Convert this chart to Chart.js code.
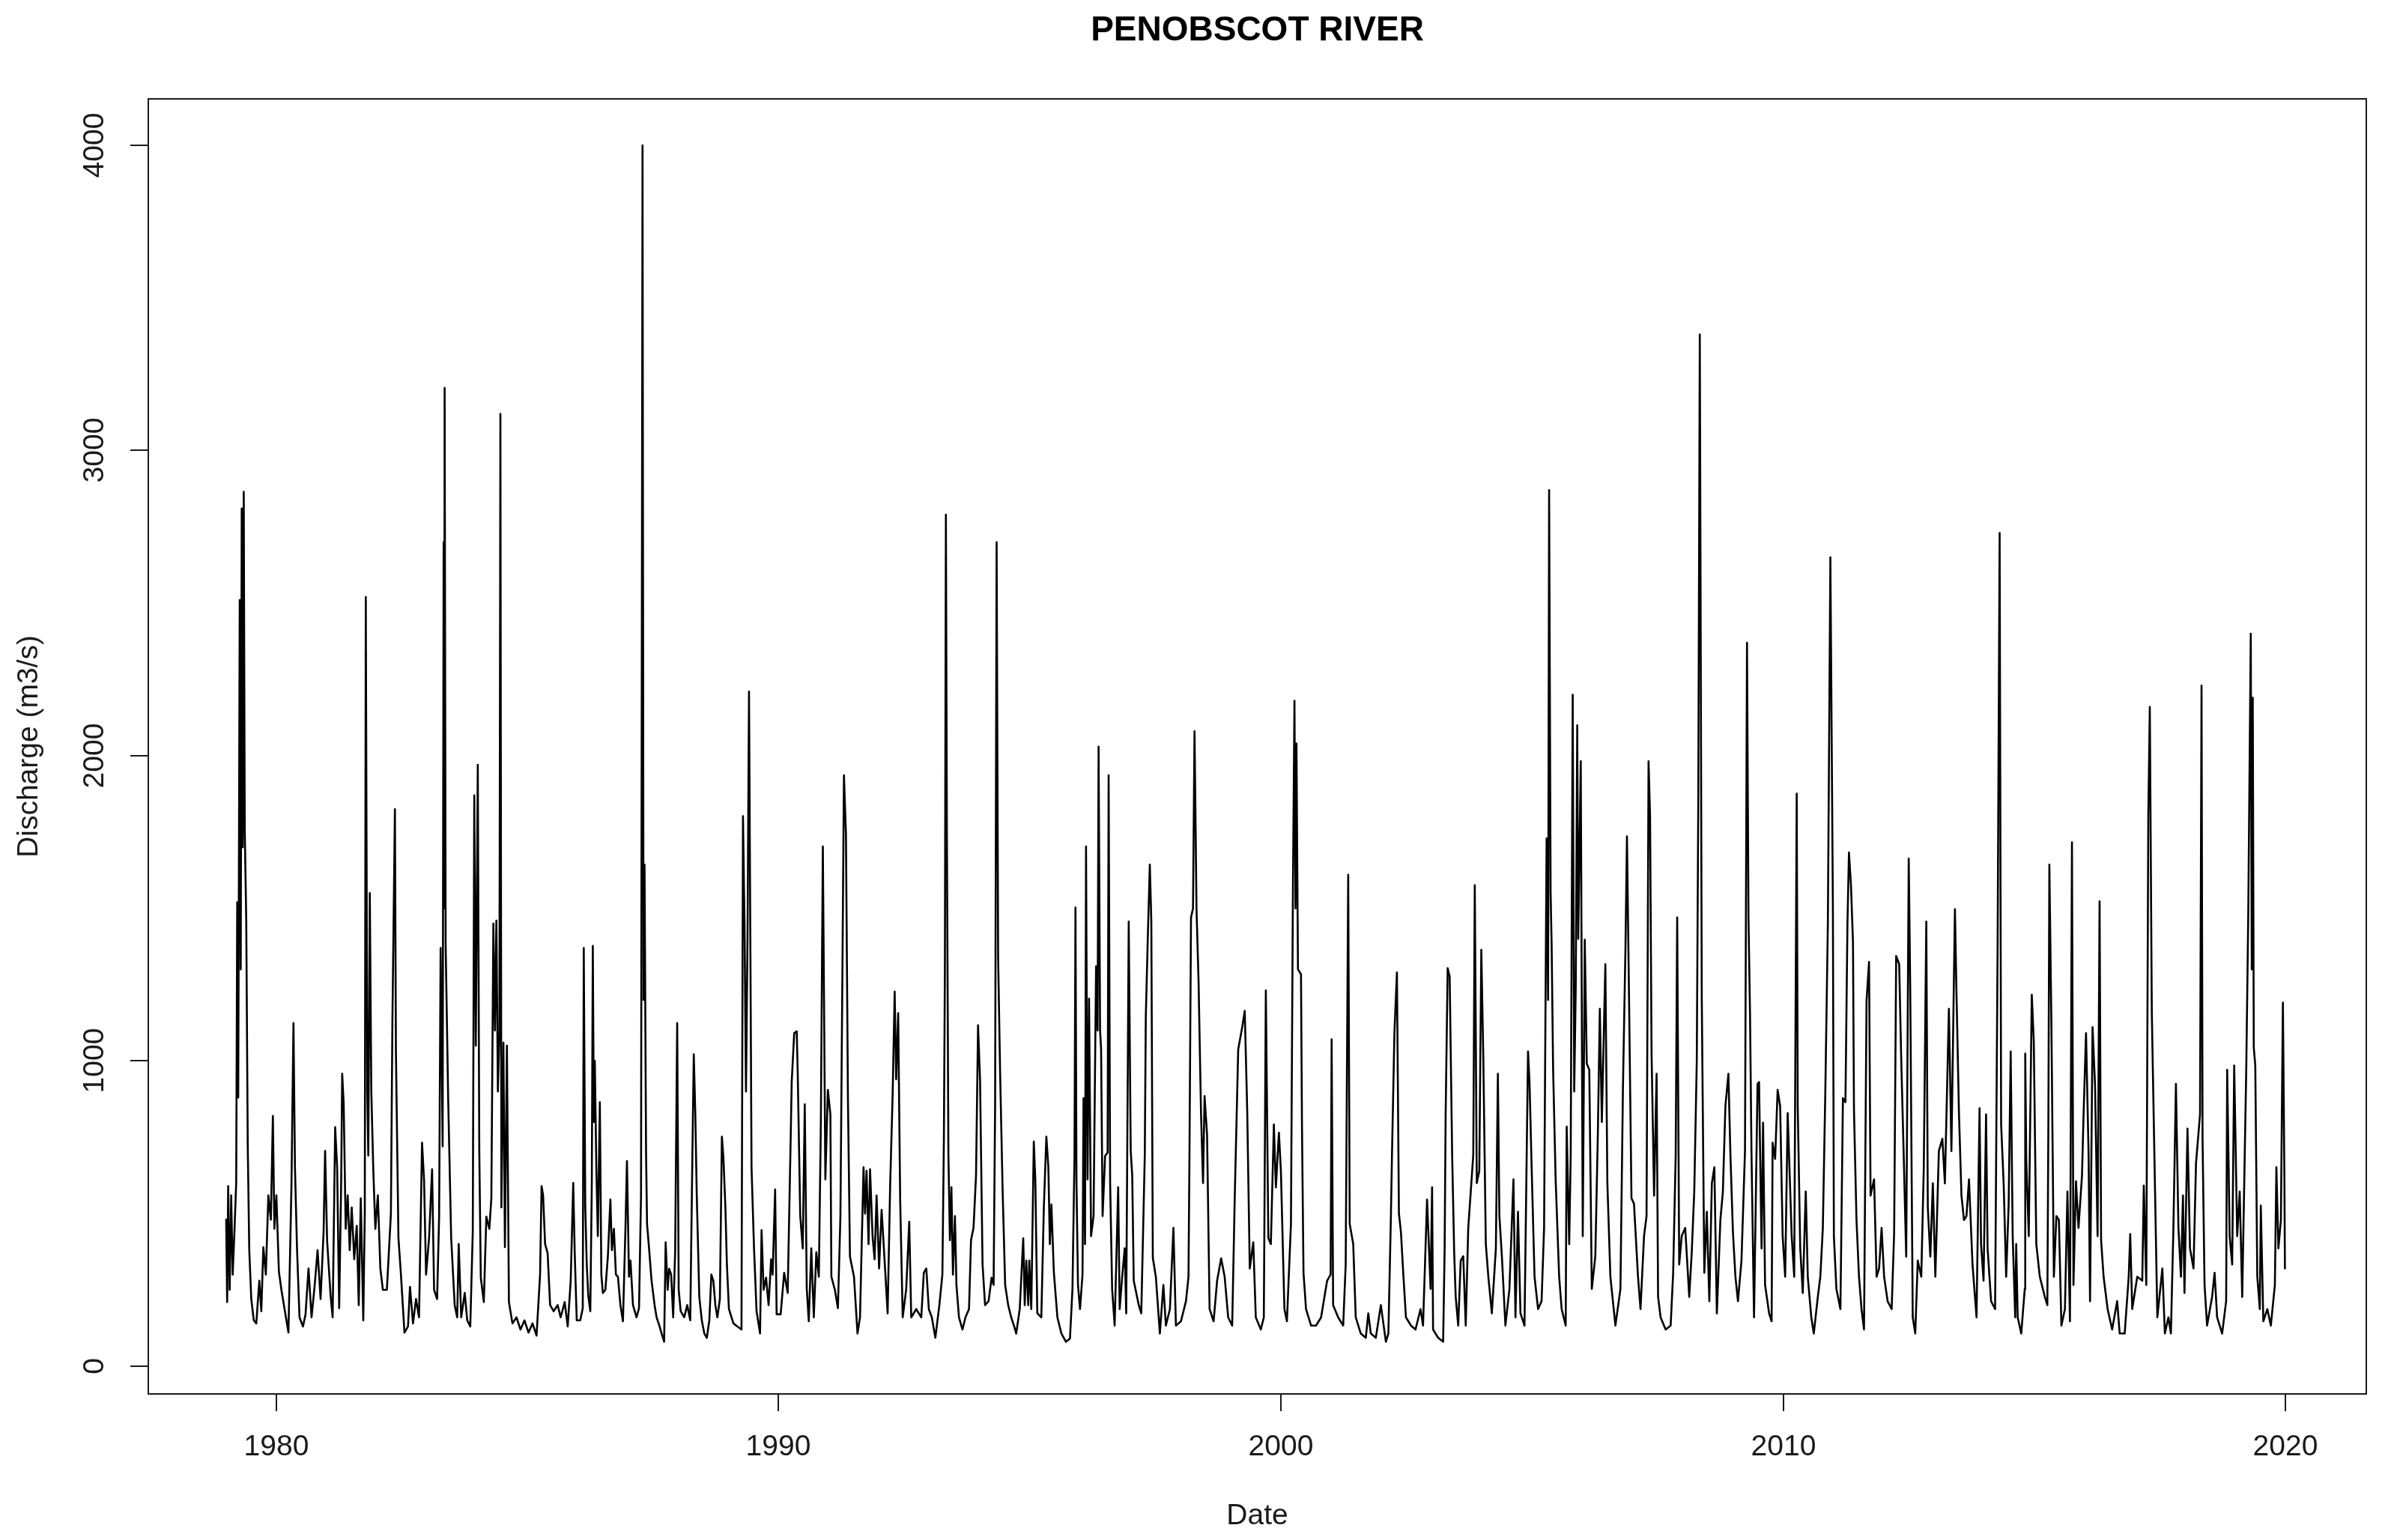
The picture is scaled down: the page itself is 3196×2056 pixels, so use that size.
<!DOCTYPE html>
<html>
<head>
<meta charset="utf-8">
<script src="https://cdn.jsdelivr.net/npm/chart.js@4.4.1/dist/chart.umd.min.js"></script>
<style>
    html, body { margin: 0; padding: 0; background: #fff; }
    #wrap { width: 3196px; height: 2056px; position: relative; }
</style>
</head>
<body>
<div id="wrap"><canvas id="flow-chart"></canvas></div>
<script>
const chartTitle = 'PENOBSCOT RIVER';
const xTitle = 'Date';
const yTitle = 'Discharge (m3/s)';
const yearTicks = [1980, 1990, 2000, 2010, 2020];
const flowTicks = [0, 1000, 2000, 3000, 4000];

// [decimal year, discharge m3/s]
const readings1979 = [
    [1979.00, 480], [1979.02, 210], [1979.04, 590], [1979.07, 250], [1979.10, 560], [1979.13, 300], [1979.16, 420], [1979.20, 600],
    [1979.22, 1520], [1979.24, 880], [1979.27, 2510], [1979.29, 1300], [1979.31, 2810], [1979.33, 1700], [1979.35, 2865], [1979.37, 1760],
    [1979.40, 1460], [1979.43, 720], [1979.46, 380], [1979.50, 220], [1979.55, 150], [1979.60, 140], [1979.66, 280], [1979.70, 180],
    [1979.74, 390], [1979.79, 300], [1979.84, 560], [1979.89, 480], [1979.93, 820], [1979.96, 450], [1980.00, 560], [1980.05, 310],
    [1980.10, 250], [1980.16, 190], [1980.24, 110], [1980.30, 590], [1980.34, 1124], [1980.37, 650], [1980.41, 390], [1980.46, 160],
    [1980.53, 130], [1980.58, 170], [1980.64, 320], [1980.70, 160], [1980.76, 260], [1980.82, 380], [1980.88, 220], [1980.94, 440],
    [1980.97, 705], [1981.01, 410], [1981.08, 230], [1981.12, 160], [1981.17, 783], [1981.21, 650], [1981.25, 190], [1981.29, 600],
    [1981.31, 958], [1981.34, 860], [1981.38, 450], [1981.42, 560], [1981.46, 380], [1981.50, 520], [1981.55, 350], [1981.60, 460],
    [1981.64, 200], [1981.68, 550], [1981.73, 150], [1981.76, 500], [1981.78, 2520], [1981.81, 900], [1981.83, 690], [1981.86, 1550],
    [1981.89, 900], [1981.93, 640], [1981.97, 450], [1982.02, 560], [1982.07, 320], [1982.12, 250], [1982.20, 250], [1982.28, 500],
    [1982.31, 1130], [1982.36, 1825], [1982.38, 1030], [1982.43, 420], [1982.48, 300], [1982.55, 110], [1982.62, 130], [1982.66, 260],
    [1982.72, 140], [1982.78, 220], [1982.84, 160], [1982.90, 732], [1982.94, 610], [1982.98, 300], [1983.04, 420], [1983.10, 645],
    [1983.14, 250], [1983.20, 220], [1983.24, 490], [1983.27, 1370], [1983.31, 720], [1983.33, 2700], [1983.34, 1500], [1983.35, 3205],
    [1983.37, 1380], [1983.42, 880], [1983.48, 420], [1983.55, 200], [1983.60, 160], [1983.63, 400], [1983.68, 160], [1983.75, 240],
    [1983.80, 150], [1983.86, 130], [1983.91, 440], [1983.94, 1870], [1983.97, 1050], [1984.01, 1970], [1984.04, 700], [1984.07, 290],
    [1984.13, 210], [1984.18, 490], [1984.24, 450], [1984.28, 550], [1984.32, 1450], [1984.35, 1100], [1984.38, 1460], [1984.41, 900],
    [1984.44, 1090], [1984.46, 3120], [1984.48, 520], [1984.52, 1060], [1984.55, 390], [1984.59, 1050], [1984.63, 210], [1984.70, 140],
    [1984.78, 160], [1984.86, 120], [1984.94, 150], [1985.02, 110], [1985.10, 140], [1985.18, 100], [1985.25, 300], [1985.28, 590],
    [1985.31, 560], [1985.35, 400], [1985.40, 370], [1985.45, 200], [1985.52, 180], [1985.60, 200], [1985.66, 160], [1985.74, 210],
    [1985.80, 130], [1985.86, 280], [1985.91, 600], [1985.94, 370], [1985.98, 150],
];

const readings1986 = [
    [1986.05, 150], [1986.10, 190], [1986.12, 1370], [1986.15, 520], [1986.18, 330], [1986.21, 230], [1986.25, 180], [1986.28, 600],
    [1986.30, 1377], [1986.32, 800], [1986.34, 1000], [1986.37, 650], [1986.40, 426], [1986.44, 865], [1986.47, 300], [1986.50, 240],
    [1986.55, 250], [1986.60, 360], [1986.65, 546], [1986.68, 380], [1986.72, 450], [1986.76, 300], [1986.80, 293], [1986.85, 200],
    [1986.90, 147], [1986.95, 453], [1986.98, 672], [1987.02, 293], [1987.05, 346], [1987.10, 200], [1987.17, 160], [1987.22, 190],
    [1987.26, 559], [1987.29, 4000], [1987.31, 1200], [1987.33, 1643], [1987.36, 700], [1987.38, 466], [1987.42, 386], [1987.47, 280],
    [1987.53, 200], [1987.57, 160], [1987.63, 130], [1987.67, 107], [1987.72, 80], [1987.75, 406], [1987.79, 250], [1987.82, 319],
    [1987.86, 300], [1987.90, 160], [1987.94, 380], [1987.98, 1124], [1988.01, 250], [1988.05, 180], [1988.12, 160], [1988.18, 200],
    [1988.24, 150], [1988.28, 659], [1988.31, 1022], [1988.34, 832], [1988.37, 559], [1988.42, 227], [1988.47, 150], [1988.52, 107],
    [1988.57, 93], [1988.62, 150], [1988.66, 300], [1988.70, 280], [1988.74, 200], [1988.78, 160], [1988.83, 220], [1988.87, 752],
    [1988.90, 685], [1988.94, 519], [1988.97, 333], [1989.01, 187], [1989.10, 140], [1989.18, 130], [1989.26, 120], [1989.29, 1802],
    [1989.32, 1457], [1989.35, 900], [1989.38, 1400], [1989.41, 2210], [1989.44, 1290], [1989.46, 652], [1989.51, 386], [1989.56, 180],
    [1989.63, 107], [1989.66, 446], [1989.70, 250], [1989.75, 290], [1989.80, 200], [1989.85, 350], [1989.88, 300], [1989.93, 579],
    [1989.96, 170], [1990.04, 170], [1990.11, 306], [1990.18, 240], [1990.24, 750], [1990.26, 931], [1990.31, 1091], [1990.36, 1097],
    [1990.38, 958], [1990.43, 492], [1990.48, 386], [1990.52, 858], [1990.56, 253], [1990.60, 147], [1990.65, 386], [1990.70, 160],
    [1990.75, 373], [1990.80, 293], [1990.84, 792], [1990.88, 1703], [1990.90, 1277], [1990.93, 612], [1990.98, 905], [1991.03, 825],
    [1991.05, 293], [1991.12, 250], [1991.18, 190], [1991.23, 492], [1991.27, 1300], [1991.30, 1936], [1991.34, 1743], [1991.38, 872],
    [1991.42, 359], [1991.50, 293], [1991.57, 107], [1991.62, 160], [1991.69, 652], [1991.72, 500], [1991.75, 640], [1991.79, 400],
    [1991.82, 645], [1991.87, 426], [1991.91, 350], [1991.95, 559], [1992.00, 320], [1992.05, 512], [1992.10, 373], [1992.17, 173],
    [1992.22, 592], [1992.27, 892], [1992.31, 1227], [1992.34, 940], [1992.38, 1157], [1992.42, 540], [1992.47, 160], [1992.54, 253],
    [1992.60, 473], [1992.64, 160], [1992.74, 187], [1992.84, 160], [1992.89, 306], [1992.94, 320], [1992.99, 187], [1993.05, 160],
    [1993.12, 93],
];

const readings1993 = [
    [1993.20, 200], [1993.26, 300], [1993.29, 745], [1993.31, 1300], [1993.33, 2790], [1993.35, 1743], [1993.38, 692], [1993.41, 413],
    [1993.44, 586], [1993.47, 300], [1993.51, 492], [1993.54, 266], [1993.59, 160], [1993.66, 120], [1993.72, 160], [1993.79, 187],
    [1993.83, 413], [1993.88, 453], [1993.93, 625], [1993.97, 1117], [1994.01, 938], [1994.06, 333], [1994.11, 200], [1994.18, 213],
    [1994.24, 290], [1994.28, 266], [1994.31, 858], [1994.34, 2700], [1994.37, 1337], [1994.41, 958], [1994.46, 572], [1994.51, 266],
    [1994.57, 200], [1994.63, 160], [1994.69, 130], [1994.73, 107], [1994.80, 187], [1994.87, 419], [1994.90, 200], [1994.93, 346],
    [1994.97, 200], [1994.99, 346], [1995.03, 187], [1995.08, 736], [1995.11, 612], [1995.15, 173], [1995.23, 160], [1995.28, 519],
    [1995.33, 752], [1995.37, 652], [1995.40, 400], [1995.43, 530], [1995.48, 306], [1995.55, 160], [1995.63, 107], [1995.72, 80],
    [1995.80, 90], [1995.85, 253], [1995.89, 685], [1995.91, 1503], [1995.93, 600], [1995.96, 266], [1996.00, 187], [1996.05, 300],
    [1996.07, 878], [1996.10, 400], [1996.12, 1703], [1996.15, 612], [1996.18, 1204], [1996.22, 426], [1996.27, 492], [1996.32, 1310],
    [1996.35, 1100], [1996.37, 2030], [1996.40, 1100], [1996.42, 1038], [1996.45, 492], [1996.50, 689], [1996.55, 700], [1996.57, 1936],
    [1996.60, 599], [1996.64, 253], [1996.69, 133], [1996.76, 586], [1996.79, 187], [1996.84, 293], [1996.89, 386], [1996.92, 173],
    [1996.97, 1457], [1997.01, 705], [1997.04, 625], [1997.07, 280], [1997.17, 200], [1997.22, 173], [1997.29, 692], [1997.31, 1144],
    [1997.35, 1404], [1997.39, 1643], [1997.42, 1457], [1997.45, 355], [1997.51, 293], [1997.59, 107], [1997.66, 266], [1997.71, 133],
    [1997.79, 187], [1997.86, 453], [1997.91, 133], [1998.01, 147], [1998.11, 213], [1998.16, 293], [1998.18, 705], [1998.21, 1470],
    [1998.25, 1500], [1998.28, 2080], [1998.32, 1497], [1998.36, 1264], [1998.41, 825], [1998.45, 600], [1998.48, 885], [1998.53, 758],
    [1998.58, 187], [1998.66, 147], [1998.73, 280], [1998.81, 353], [1998.88, 293], [1998.95, 160], [1999.03, 133], [1999.08, 546],
    [1999.15, 1038], [1999.23, 1111], [1999.28, 1164], [1999.33, 832], [1999.38, 320], [1999.45, 406], [1999.50, 160], [1999.60, 120],
    [1999.66, 160], [1999.70, 1231], [1999.75, 420], [1999.80, 400], [1999.86, 792], [1999.90, 586], [1999.96, 765], [2000.00, 640],
    [2000.07, 187], [2000.12, 147], [2000.20, 466], [2000.24, 1576],
];

const readings2000 = [
    [2000.27, 2180], [2000.29, 1500], [2000.31, 2040], [2000.34, 1300], [2000.40, 1284], [2000.42, 778], [2000.45, 306], [2000.50, 187],
    [2000.60, 133], [2000.70, 133], [2000.80, 160], [2000.92, 280], [2000.99, 300], [2001.01, 1071], [2001.04, 200], [2001.14, 160],
    [2001.24, 133], [2001.29, 333], [2001.34, 1610], [2001.37, 466], [2001.44, 400], [2001.49, 160], [2001.59, 107], [2001.69, 93],
    [2001.74, 173], [2001.79, 107], [2001.89, 93], [2001.99, 200], [2002.09, 80], [2002.14, 107], [2002.19, 492], [2002.21, 679],
    [2002.26, 1091], [2002.31, 1290], [2002.35, 500], [2002.39, 439], [2002.44, 293], [2002.49, 160], [2002.59, 133], [2002.68, 120],
    [2002.78, 187], [2002.83, 133], [2002.91, 546], [2002.98, 253], [2003.01, 586], [2003.03, 120], [2003.13, 93], [2003.23, 80],
    [2003.26, 386], [2003.28, 825], [2003.32, 1304], [2003.36, 1277], [2003.41, 689], [2003.45, 373], [2003.48, 227], [2003.53, 133],
    [2003.58, 346], [2003.63, 360], [2003.68, 133], [2003.73, 453], [2003.78, 572], [2003.83, 692], [2003.86, 1576], [2003.90, 600],
    [2003.95, 640], [2003.99, 1364], [2004.03, 1011], [2004.08, 400], [2004.13, 293], [2004.20, 173], [2004.28, 386], [2004.32, 958],
    [2004.35, 492], [2004.40, 359], [2004.47, 133], [2004.55, 253], [2004.63, 612], [2004.67, 160], [2004.72, 506], [2004.77, 173],
    [2004.85, 133], [2004.92, 1031], [2004.95, 931], [2004.99, 665], [2005.05, 293], [2005.12, 187], [2005.19, 213], [2005.24, 453],
    [2005.29, 1729], [2005.32, 1200], [2005.34, 2870], [2005.37, 1550], [2005.39, 1384], [2005.42, 971], [2005.47, 612], [2005.54, 293],
    [2005.59, 187], [2005.67, 133], [2005.69, 785], [2005.74, 400], [2005.77, 692], [2005.81, 2200], [2005.84, 900], [2005.87, 1237],
    [2005.90, 2100], [2005.92, 1400], [2005.97, 1982], [2006.01, 426], [2006.05, 1397], [2006.09, 991], [2006.14, 971], [2006.19, 253],
    [2006.26, 360], [2006.31, 758], [2006.35, 1171], [2006.39, 800], [2006.46, 1317], [2006.50, 599], [2006.56, 293], [2006.66, 133],
    [2006.76, 253], [2006.81, 911], [2006.86, 1370], [2006.89, 1736], [2006.93, 1224], [2006.98, 550], [2007.03, 532], [2007.11, 293],
    [2007.16, 187], [2007.23, 426], [2007.28, 492], [2007.32, 1982], [2007.35, 1803], [2007.38, 1024], [2007.43, 559],
];

const readings2007 = [
    [2007.48, 958], [2007.51, 227], [2007.56, 160], [2007.66, 120], [2007.76, 133], [2007.81, 306], [2007.86, 692], [2007.89, 1470],
    [2007.93, 333], [2007.98, 426], [2008.05, 453], [2008.13, 227], [2008.18, 373], [2008.23, 572], [2008.28, 998], [2008.31, 1842],
    [2008.34, 3380], [2008.38, 1197], [2008.43, 306], [2008.48, 506], [2008.53, 213], [2008.58, 599], [2008.63, 652], [2008.68, 173],
    [2008.75, 479], [2008.80, 572], [2008.85, 852], [2008.91, 958], [2008.95, 692], [2009.00, 439], [2009.05, 293], [2009.10, 213],
    [2009.17, 346], [2009.24, 705], [2009.28, 2370], [2009.31, 1463], [2009.34, 1157], [2009.37, 692], [2009.42, 160], [2009.49, 925],
    [2009.52, 931], [2009.57, 386], [2009.60, 798], [2009.64, 266], [2009.72, 173], [2009.77, 147], [2009.79, 732], [2009.84, 679],
    [2009.89, 905], [2009.94, 852], [2009.99, 426], [2010.04, 293], [2010.09, 829], [2010.17, 426], [2010.22, 293], [2010.27, 1876],
    [2010.29, 852], [2010.34, 386], [2010.39, 240], [2010.45, 572], [2010.49, 293], [2010.56, 160], [2010.61, 107], [2010.69, 227],
    [2010.74, 293], [2010.79, 453], [2010.84, 905], [2010.89, 1450], [2010.94, 2650], [2010.99, 1510], [2011.01, 426], [2011.06, 253],
    [2011.14, 187], [2011.19, 878], [2011.24, 865], [2011.28, 1450], [2011.31, 1683], [2011.35, 1576], [2011.39, 1390], [2011.41, 838],
    [2011.46, 479], [2011.51, 293], [2011.56, 187], [2011.61, 120], [2011.66, 1197], [2011.71, 1324], [2011.74, 559], [2011.81, 612],
    [2011.86, 293], [2011.91, 320], [2011.96, 453], [2012.01, 293], [2012.08, 213], [2012.16, 187], [2012.21, 439], [2012.25, 1344],
    [2012.31, 1317], [2012.35, 1011], [2012.40, 692], [2012.45, 359], [2012.50, 1663], [2012.53, 1237], [2012.58, 160], [2012.63, 107],
    [2012.68, 346], [2012.75, 293], [2012.80, 652], [2012.85, 1457], [2012.88, 519], [2012.93, 359], [2012.98, 599], [2013.03, 293],
    [2013.10, 705], [2013.17, 745], [2013.22, 599], [2013.30, 1171], [2013.35, 705], [2013.42, 1497], [2013.45, 1231], [2013.50, 830],
    [2013.55, 559], [2013.60, 479], [2013.65, 492], [2013.70, 612], [2013.77, 333], [2013.85, 160], [2013.91, 845], [2013.94, 400],
    [2013.99, 280], [2014.04, 825], [2014.07, 386], [2014.14, 213], [2014.22, 187], [2014.27, 1384], [2014.31, 2730], [2014.34, 792],
    [2014.39, 599], [2014.44, 293], [2014.49, 532], [2014.53, 1031], [2014.57, 426], [2014.62, 160],
];

const readings2014 = [
    [2014.64, 400], [2014.67, 160], [2014.74, 107], [2014.81, 253], [2014.82, 1024], [2014.84, 679], [2014.89, 426], [2014.95, 1217],
    [2014.99, 1064], [2015.04, 400], [2015.11, 293], [2015.21, 227], [2015.26, 200], [2015.28, 785], [2015.30, 1643], [2015.34, 1131],
    [2015.39, 293], [2015.44, 492], [2015.49, 479], [2015.54, 133], [2015.61, 187], [2015.66, 572], [2015.71, 147], [2015.75, 1716],
    [2015.78, 266], [2015.83, 606], [2015.88, 453], [2015.95, 625], [2015.98, 818], [2016.03, 1091], [2016.08, 705], [2016.11, 213],
    [2016.16, 1111], [2016.21, 918], [2016.26, 426], [2016.30, 1523], [2016.33, 413], [2016.38, 293], [2016.46, 187], [2016.55, 120],
    [2016.65, 213], [2016.70, 107], [2016.80, 107], [2016.88, 293], [2016.91, 433], [2016.95, 187], [2017.05, 293], [2017.15, 280],
    [2017.18, 592], [2017.23, 266], [2017.27, 1803], [2017.30, 2160], [2017.34, 1157], [2017.40, 612], [2017.45, 160], [2017.55, 320],
    [2017.60, 107], [2017.67, 160], [2017.72, 107], [2017.77, 453], [2017.82, 925], [2017.87, 453], [2017.92, 293], [2017.96, 559],
    [2017.99, 240], [2018.05, 778], [2018.10, 386], [2018.17, 320], [2018.22, 665], [2018.30, 825], [2018.33, 2230], [2018.35, 745],
    [2018.39, 266], [2018.44, 133], [2018.54, 227], [2018.59, 306], [2018.64, 160], [2018.74, 107], [2018.82, 213], [2018.84, 971],
    [2018.89, 426], [2018.94, 333], [2018.98, 985], [2019.04, 426], [2019.09, 572], [2019.14, 227], [2019.22, 971], [2019.26, 1477],
    [2019.31, 2400], [2019.33, 1300], [2019.35, 2190], [2019.37, 1044], [2019.40, 985], [2019.44, 293], [2019.49, 187], [2019.51, 526],
    [2019.56, 147], [2019.64, 187], [2019.71, 133], [2019.79, 266], [2019.82, 652], [2019.86, 386], [2019.91, 479], [2019.95, 1191],
    [2019.98, 612], [2019.99, 320],
];

const FONT = '"Liberation Sans", Arial, sans-serif';
const INK = '#1a1a1a';

// base-graphics style frame, ticks and labels
const baseAxes = {
    id: 'baseAxes',
    afterDraw(chart) {
        const { ctx, chartArea: area, scales } = chart;
        const midX = (area.left + area.right) / 2;
        const midY = (area.top + area.bottom) / 2;

        ctx.save();
        ctx.strokeStyle = INK;
        ctx.fillStyle = INK;
        ctx.lineWidth = 2;
        ctx.strokeRect(area.left, area.top, area.right - area.left, area.bottom - area.top);

        ctx.font = '39px ' + FONT;
        ctx.textAlign = 'center';
        ctx.textBaseline = 'middle';

        yearTicks.forEach((year) => {
            const px = Math.round(scales.x.getPixelForValue(year));
            ctx.beginPath();
            ctx.moveTo(px, area.bottom);
            ctx.lineTo(px, area.bottom + 23);
            ctx.stroke();
            ctx.fillText(String(year), px, area.bottom + 71);
        });

        flowTicks.forEach((value) => {
            const py = Math.round(scales.y.getPixelForValue(value));
            ctx.beginPath();
            ctx.moveTo(area.left - 24, py);
            ctx.lineTo(area.left, py);
            ctx.stroke();
            ctx.save();
            ctx.translate(area.left - 71, py);
            ctx.rotate(-Math.PI / 2);
            ctx.fillText(String(value), 0, 0);
            ctx.restore();
        });

        ctx.fillText(xTitle, midX, area.bottom + 163);

        ctx.save();
        ctx.translate(area.left - 159, midY);
        ctx.rotate(-Math.PI / 2);
        ctx.fillText(yTitle, 0, 0);
        ctx.restore();

        ctx.fillStyle = '#000';
        ctx.font = 'bold 46px ' + FONT;
        ctx.fillText(chartTitle, midX, 41);
        ctx.restore();
    },
};

const readings = [...readings1979, ...readings1986, ...readings1993, ...readings2000, ...readings2007, ...readings2014];

new Chart(document.getElementById('flow-chart'), {
    type: 'line',
    data: {
        datasets: [
            {
                label: 'Discharge',
                data: readings.map(([year, flow]) => ({ x: year, y: flow })),
                borderColor: '#000',
                borderWidth: 2.6,
                borderJoinStyle: 'round',
                borderCapStyle: 'round',
                pointRadius: 0,
                tension: 0,
                fill: false,
            },
        ],
    },
    options: {
        responsive: true,
        maintainAspectRatio: false,
        animation: false,
        layout: { padding: { left: 198, right: 37, top: 132, bottom: 195 } },
        scales: {
            x: { type: 'linear', min: 1977.45, max: 2021.61, display: false },
            y: { type: 'linear', min: -91, max: 4152, display: false },
        },
        plugins: {
            legend: { display: false },
            tooltip: { enabled: false },
            title: { display: false },
        },
    },
    plugins: [baseAxes],
});
</script>
</body>
</html>
